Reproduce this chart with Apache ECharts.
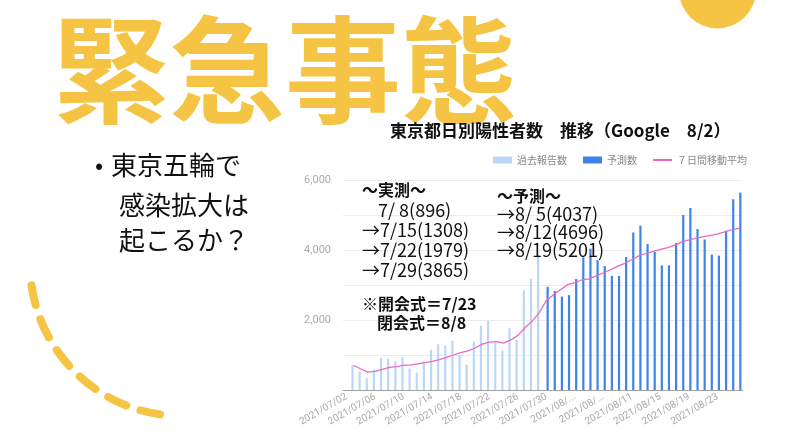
<!DOCTYPE html>
<html><head><meta charset="utf-8">
<script src="https://cdn.jsdelivr.net/npm/echarts@6/dist/echarts.min.js"></script>
<style>html,body{margin:0;padding:0;background:#fff;}#c{width:800px;height:439px;}</style>
</head><body><div id="c"></div>
<script>
const dates = ['2021/07/02','2021/07/03','2021/07/04','2021/07/05','2021/07/06','2021/07/07','2021/07/08','2021/07/09','2021/07/10','2021/07/11','2021/07/12','2021/07/13','2021/07/14','2021/07/15','2021/07/16','2021/07/17','2021/07/18','2021/07/19','2021/07/20','2021/07/21','2021/07/22','2021/07/23','2021/07/24','2021/07/25','2021/07/26','2021/07/27','2021/07/28','2021/07/29','2021/07/30','2021/07/31','2021/08/01','2021/08/02','2021/08/03','2021/08/04','2021/08/05','2021/08/06','2021/08/07','2021/08/08','2021/08/09','2021/08/10','2021/08/11','2021/08/12','2021/08/13','2021/08/14','2021/08/15','2021/08/16','2021/08/17','2021/08/18','2021/08/19','2021/08/20','2021/08/21','2021/08/22','2021/08/23','2021/08/24','2021/08/25','2021/08/26'];
const tickLabels = ['2021/07/02','2021/07/06','2021/07/10','2021/07/14','2021/07/18','2021/07/22','2021/07/26','2021/07/30','2021/08/...','2021/08/...','2021/08/11','2021/08/15','2021/08/19','2021/08/23'];
const pastReported = [null,716,518,342,593,920,896,822,950,614,502,830,1149,1308,1271,1410,1008,727,1387,1832,1979,1359,1128,1763,1429,2848,3177,3865,
  null,null,null,null,null,null,null,null,null,null,null,null,null,null,null,null,null,null,null,null,null,null,null,null,null,null,null,null];
const forecast = [null,null,null,null,null,null,null,null,null,null,null,null,null,null,null,null,null,null,null,null,null,null,null,null,null,null,null,null,
  2950,2830,2670,2710,3170,3790,4037,3710,3540,3260,3260,3800,4500,4696,4170,3940,3560,3560,4200,5000,5201,4600,4300,3870,3840,4550,5450,5640];
const movingAvg = [null,700,600,510,530,590,645,670,705,720,745,780,820,870,930,1000,1065,1120,1200,1310,1370,1385,1340,1430,1560,1780,1970,2210,2560,2720,2870,3010,3070,3150,3175,3260,3350,3440,3540,3620,3730,3840,3900,3960,4020,4070,4140,4230,4290,4340,4380,4420,4460,4520,4580,4620];
const seriesNames = ['過去報告数','予測数','７日間移動平均'];
const chartTitle = '東京都日別陽性者数　推移（Google　8/2）';
const actualNotes = ['～実測～','7/ 8(896)','→7/15(1308)','→7/22(1979)','→7/29(3865)'];
const forecastNotes = ['～予測～','→8/ 5(4037)','→8/12(4696)','→8/19(5201)'];
const ceremonyNotes = ['※開会式＝7/23','閉会式＝8/8'];
const bulletLines = ['東京五輪で','感染拡大は','起こるか？'];

const JP = '"Noto Sans CJK JP", "Noto Sans", sans-serif';
const YEL = '#f6c444';
const chart = echarts.init(document.getElementById('c'));

function txt(x, y, text, size, weight, color, align) {
  return {type:'text', x:x, y:y, z:100, style:{text:text, fontSize:size, fontWeight:weight||'normal', fill:color||'#111', fontFamily:JP, verticalAlign:'middle', align:align||'left'}};
}
const graphics = [
  {type:'circle', shape:{cx:717.5, cy:-10, r:38.5}, style:{fill:YEL}, z:1},
  {type:'arc', shape:{cx:182, cy:264, r:152, startAngle:1.716, endAngle:3.037, clockwise:true}, style:{stroke:YEL, lineWidth:8, lineDash:[20,15], lineCap:'round', fill:null}, z:1},
  txt(53, 70, '緊急事態', 116, 'bold', YEL),
  txt(95, 165, '•', 24, 'normal', '#111'),
  txt(111, 165, bulletLines[0], 26),
  txt(119, 205, bulletLines[1], 26),
  txt(119, 240, bulletLines[2], 26),
  txt(390, 131, chartTitle, 17, 'bold'),
  txt(362, 190, actualNotes[0], 16, 'bold'),
  txt(378, 210, actualNotes[1], 18),
  txt(362, 230, actualNotes[2], 18),
  txt(362, 250, actualNotes[3], 18),
  txt(362, 270, actualNotes[4], 18),
  txt(497, 196, forecastNotes[0], 16, 'bold'),
  txt(497, 214, forecastNotes[1], 18),
  txt(497, 232, forecastNotes[2], 18),
  txt(497, 250, forecastNotes[3], 18),
  txt(362, 304, ceremonyNotes[0], 16, 'bold'),
  txt(377, 323, ceremonyNotes[1], 16, 'bold')
];

const legendText = {color:'#888', fontSize:10, fontFamily:JP};
chart.setOption({
  animation:false,
  backgroundColor:'#fff',
  legend:[
    {data:[seriesNames[0]], left:493, top:155, padding:0, icon:'rect', itemWidth:19, itemHeight:7, textStyle:legendText},
    {data:[seriesNames[1]], left:583, top:155, padding:0, icon:'rect', itemWidth:19, itemHeight:7, textStyle:legendText},
    {data:[seriesNames[2]], left:653, top:155, padding:0, icon:'rect', itemWidth:19, itemHeight:2, textStyle:legendText}
  ],
  grid:{left:343, right:57.3, top:180, bottom:49, containLabel:false},
  xAxis:{type:'category', data:dates, boundaryGap:true,
    axisLine:{lineStyle:{color:'#a0a0a0', width:1}}, axisTick:{show:false},
    axisLabel:{interval:3, rotate:30, margin:6, color:'#a8a8a8', fontSize:10, fontFamily:'Roboto, sans-serif',
      formatter:function(v, idx){ return tickLabels[Math.round(idx/4)] || ''; }}},
  yAxis:{type:'value', min:0, max:6000, interval:1000,
    axisLine:{show:false}, axisTick:{show:false},
    splitLine:{lineStyle:{color:'#ececec', width:1}},
    axisLabel:{margin:12, color:'#aaa', fontSize:11, fontFamily:'Roboto, sans-serif',
      formatter:function(v){ return (v>0 && v%2000===0) ? v.toLocaleString('en-US') : ''; }}},
  series:[
    {name:seriesNames[0], type:'bar', data:pastReported, barWidth:2.2, barGap:'10%', itemStyle:{color:'#bcd7f5'}},
    {name:seriesNames[1], type:'bar', data:forecast, barWidth:2.2, barGap:'10%', itemStyle:{color:'#3d84e6'}},
    {name:seriesNames[2], type:'line', data:movingAvg, symbol:'none', connectNulls:false, z:5,
      lineStyle:{color:'#e96bbd', width:1.3}, itemStyle:{color:'#e96bbd'}}
  ],
  graphic:graphics
});
</script></body></html>
